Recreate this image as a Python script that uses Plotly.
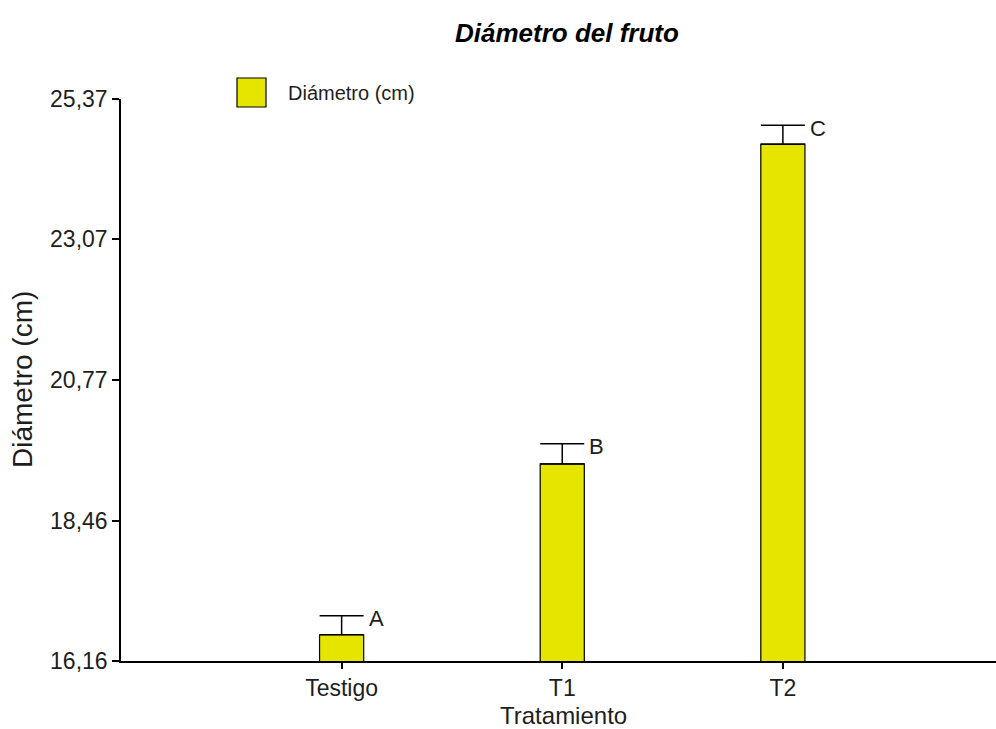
import plotly.graph_objects as go

# Fruit diameter per treatment (cm), with upper error and significance group
tratamientos = ["Testigo", "T1", "T2"]
diametro = [16.59, 19.39, 24.63]
error_sup = [0.31, 0.33, 0.31]
grupos = ["A", "B", "C"]

y_ticks = [16.16, 18.46, 20.77, 23.07, 25.37]
y_tick_labels = ["16,16", "18,46", "20,77", "23,07", "25,37"]

FONT = "Liberation Sans, Arial, sans-serif"
TEXT = "#1e1e1e"
BAR_COLOR = "#E5E500"

# plot-area geometry in pixels (used for paper-coordinate placement)
L, R, T, B = 121, 996, 99, 661
W, H = R - L, B - T


def px(x):
    return (x - L) / W


def py(y):
    return (B - y) / H


x_pos = list(range(len(tratamientos)))

fig = go.Figure()
fig.add_trace(go.Bar(
    x=x_pos,
    y=diametro,
    width=0.2,
    name="Diámetro (cm)",
    marker=dict(color=BAR_COLOR, line=dict(color="black", width=1.2)),
    error_y=dict(type="data", symmetric=False, array=error_sup,
                 arrayminus=[0] * len(diametro),
                 color="black", thickness=1.5, width=22),
    showlegend=False,
))

# Group letters beside each error-bar cap
for xi, v, e, g in zip(x_pos, diametro, error_sup, grupos):
    fig.add_annotation(x=xi, y=v + e, text=g, showarrow=False,
                       xanchor="left", yanchor="middle",
                       xshift=25, yshift=-3,
                       font=dict(family=FONT, size=22, color=TEXT))

# Legend swatch and label
fig.add_shape(type="rect", xref="paper", yref="paper",
              x0=px(237), x1=px(266), y0=py(107), y1=py(78),
              fillcolor=BAR_COLOR, line=dict(color="black", width=1.2))
fig.add_annotation(xref="paper", yref="paper", x=px(286), y=py(93),
                   text="Diámetro (cm)", showarrow=False,
                   xanchor="left", yanchor="middle",
                   font=dict(family=FONT, size=20, color=TEXT))

# Title
fig.add_annotation(xref="paper", yref="paper", x=px(567), y=py(33),
                   text="<b><i>Diámetro del fruto</i></b>", showarrow=False,
                   xanchor="center", yanchor="middle",
                   font=dict(family=FONT, size=26, color="black"))

# Axis titles
fig.add_annotation(xref="paper", yref="paper", x=px(22), y=py(380),
                   text="Diámetro (cm)", showarrow=False, textangle=-90,
                   xanchor="center", yanchor="middle",
                   font=dict(family=FONT, size=28, color=TEXT))
fig.add_annotation(xref="paper", yref="paper", x=px(563), y=py(715),
                   text="Tratamiento", showarrow=False,
                   xanchor="center", yanchor="middle",
                   font=dict(family=FONT, size=24, color=TEXT))

fig.update_layout(
    width=996, height=729,
    margin=dict(l=L, r=996 - R, t=T, b=729 - B),
    paper_bgcolor="white", plot_bgcolor="white",
    font=dict(family=FONT, color=TEXT),
    xaxis=dict(
        range=[-1.0, 2.966],
        tickvals=x_pos, ticktext=tratamientos,
        showline=True, linecolor="black", linewidth=1.5,
        ticks="outside", ticklen=6, tickcolor="black", tickwidth=1.5,
        showgrid=False, zeroline=False,
        tickfont=dict(family=FONT, size=23, color=TEXT),
    ),
    yaxis=dict(
        range=[16.16, 25.37],
        tickvals=y_ticks, ticktext=y_tick_labels,
        showline=True, linecolor="black", linewidth=1.5,
        ticks="outside", ticklen=7, tickcolor="black", tickwidth=1.5,
        showgrid=False, zeroline=False,
        tickfont=dict(family=FONT, size=23, color=TEXT),
    ),
)

fig.write_html("out.html")
